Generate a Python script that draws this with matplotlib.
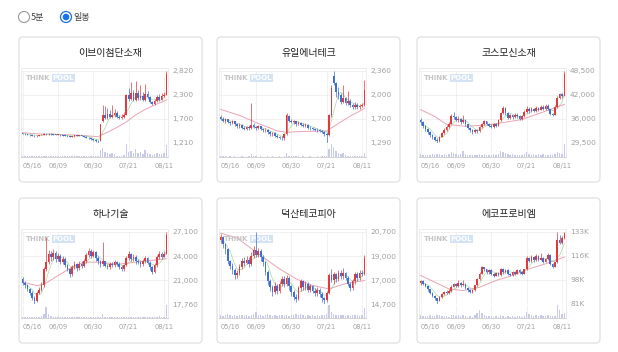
import matplotlib
matplotlib.use("Agg")
import matplotlib.pyplot as plt
from matplotlib.patches import FancyBboxPatch, Circle, Rectangle
import numpy as np
import pandas as pd

plt.rcParams['font.family'] = ['Noto Sans CJK KR', 'DejaVu Sans']

W, H = 618, 352

date_labels = ['05/16', '06/09', '06/30', '07/21', '08/11']
date_pos = [0, 15, 30, 45, 60]

# ---- 이브이첨단소재 ----
name1 = '이브이첨단소재'
ylab1 = ['2,820', '2,300', '1,700', '1,210']
o1 = [1430, 1420, 1410, 1400, 1385, 1375, 1365, 1370, 1390, 1400, 1415, 1405, 1420, 1410, 1400, 1395,
      1400, 1385, 1375, 1370, 1360, 1350, 1365, 1380, 1370, 1385, 1370, 1350, 1330, 1315, 1300, 1280,
      1260, 1255, 1700, 1840, 1770, 1860, 1790, 1830, 1880, 1800, 1760, 1800, 1840, 2280, 2200, 2330,
      2180, 2320, 2210, 2260, 2180, 2300, 2230, 2120, 2080, 2150, 2230, 2180, 2260, 2290]
c1 = [1420, 1410, 1400, 1385, 1375, 1365, 1370, 1390, 1400, 1415, 1405, 1420, 1410, 1400, 1395, 1400,
      1385, 1375, 1370, 1360, 1350, 1365, 1380, 1370, 1385, 1370, 1350, 1330, 1315, 1300, 1280, 1260,
      1250, 1630, 1840, 1770, 1860, 1790, 1830, 1880, 1800, 1760, 1800, 1840, 2280, 2200, 2330, 2180,
      2320, 2210, 2260, 2180, 2300, 2230, 2120, 2080, 2150, 2230, 2180, 2260, 2290, 2760]
h1 = [1440, 1430, 1420, 1410, 1395, 1385, 1380, 1400, 1410, 1425, 1425, 1430, 1430, 1420, 1410, 1410,
      1405, 1395, 1385, 1380, 1370, 1375, 1390, 1395, 1395, 1390, 1375, 1360, 1340, 1325, 1310, 1290,
      1270, 1640, 2060, 2040, 2000, 1950, 2050, 1980, 1920, 1830, 1850, 1900, 2300, 2450, 2580, 2400,
      2600, 2400, 2500, 2350, 2520, 2380, 2260, 2150, 2200, 2280, 2300, 2320, 2340, 2820]
l1 = [1410, 1400, 1390, 1375, 1365, 1355, 1355, 1360, 1380, 1390, 1395, 1400, 1400, 1390, 1385, 1385,
      1375, 1365, 1360, 1350, 1340, 1340, 1355, 1360, 1360, 1360, 1340, 1320, 1300, 1285, 1265, 1240,
      1210, 1250, 1680, 1740, 1750, 1770, 1780, 1800, 1780, 1740, 1750, 1780, 1830, 2150, 2180, 2150,
      2160, 2180, 2180, 2150, 2160, 2200, 2100, 2060, 2060, 2130, 2160, 2170, 2240, 2280]
v1 = [.08, .06, .05, .06, .05, .05, .04, .06, .05, .07, .05, .06, .05, .04, .05, .05,
      .04, .05, .04, .05, .04, .05, .06, .04, .05, .04, .05, .04, .05, .06, .05, .06,
      .08, .55, .70, .40, .30, .20, .30, .20, .10, .08, .10, .12, 1.0, .40, .50, .30,
      .60, .30, .40, .20, .55, .30, .20, .15, .20, .30, .20, .20, .30, .95]
ma_x1 = [0, 8, 16, 24, 32, 36, 40, 44, 48, 52, 56, 61]
ma_y1 = [1440, 1410, 1400, 1385, 1350, 1450, 1560, 1680, 1840, 1960, 2060, 2170]

# ---- 유일에너테크 ----
name2 = '유일에너테크'
ylab2 = ['2,360', '2,000', '1,700', '1,290']
o2 = [1680, 1650, 1620, 1640, 1600, 1580, 1610, 1570, 1540, 1560, 1520, 1500, 1530, 1510, 1560, 1530,
      1510, 1540, 1500, 1480, 1490, 1450, 1420, 1440, 1400, 1380, 1370, 1360, 1420, 1690, 1620, 1600,
      1610, 1570, 1590, 1560, 1550, 1560, 1520, 1510, 1500, 1490, 1480, 1470, 1460, 1430, 1410, 1700,
      2280, 2180, 2050, 2000, 1900, 1960, 1880, 1920, 1850, 1830, 1860, 1820, 1840, 1850]
c2 = [1650, 1620, 1640, 1600, 1580, 1610, 1570, 1540, 1560, 1520, 1500, 1530, 1510, 1560, 1530, 1510,
      1540, 1500, 1480, 1490, 1450, 1420, 1440, 1400, 1380, 1370, 1360, 1420, 1700, 1620, 1600, 1610,
      1570, 1590, 1560, 1550, 1560, 1520, 1510, 1500, 1490, 1480, 1470, 1460, 1430, 1410, 1700, 2100,
      2180, 2050, 2000, 1900, 1960, 1880, 1920, 1850, 1830, 1860, 1820, 1840, 1850, 2080]
h2 = [1700, 1670, 1660, 1650, 1620, 1630, 1620, 1590, 1580, 1570, 1540, 1550, 1560, 1890, 1580, 1550,
      1560, 1550, 1520, 1510, 1500, 1470, 1460, 1450, 1420, 1400, 1390, 1440, 1740, 1700, 1640, 1630,
      1620, 1610, 1600, 1580, 1580, 1570, 1540, 1530, 1520, 1510, 1500, 1490, 1470, 1450, 1720, 2150,
      2360, 2200, 2120, 2030, 2150, 1980, 2060, 1950, 1880, 1900, 1880, 1870, 1880, 2230]
l2 = [1630, 1600, 1590, 1580, 1560, 1570, 1550, 1520, 1520, 1500, 1480, 1490, 1490, 1500, 1510, 1490,
      1500, 1480, 1460, 1460, 1430, 1400, 1400, 1380, 1360, 1350, 1330, 1340, 1410, 1600, 1580, 1570,
      1550, 1560, 1540, 1530, 1530, 1500, 1490, 1480, 1470, 1460, 1450, 1440, 1400, 1290, 1400, 1680,
      2150, 1980, 1950, 1870, 1880, 1850, 1860, 1830, 1800, 1800, 1800, 1800, 1820, 1840]
v2 = [.05, .04, .04, .03, .04, .03, .04, .03, .03, .04, .03, .03, .04, .25, .06, .04,
      .03, .04, .03, .03, .04, .03, .04, .03, .03, .04, .03, .05, .30, .10, .06, .05,
      .04, .04, .03, .04, .03, .03, .04, .03, .03, .04, .03, .04, .05, .06, .60, 1.0,
      .80, .50, .30, .20, .35, .15, .10, .10, .08, .06, .07, .05, .06, .35]
ma_x2 = [0, 8, 16, 24, 28, 34, 40, 45, 50, 55, 61]
ma_y2 = [1790, 1700, 1580, 1470, 1450, 1460, 1465, 1470, 1580, 1690, 1800]

# ---- 코스모신소재 ----
name3 = '코스모신소재'
ylab3 = ['48,500', '42,000', '36,000', '29,500']
o3 = [35500, 35000, 34000, 33200, 32300, 31600, 31000, 30400, 30000, 31200, 32200, 33000, 33800, 34600,
      36600, 36400, 35600, 35900, 35100, 35700, 34400, 33500, 32800, 32400, 32900, 32600, 33600, 34500,
      35200, 34600, 34100, 33800, 34400, 34000, 35500, 37400, 38800, 37400, 36200, 36800, 36300, 37000,
      36500, 35900, 36600, 37800, 38600, 37900, 38500, 37900, 38800, 38300, 39000, 38500, 39300, 38400,
      37200, 36900, 39000, 41500, 42300, 42000]
c3 = [35000, 34000, 33200, 32300, 31600, 31000, 30400, 30000, 31200, 32200, 33000, 33800, 34600, 36600,
      36400, 35600, 35900, 35100, 35700, 34400, 33500, 32800, 32400, 32900, 32600, 33600, 34500, 35200,
      34600, 34100, 33800, 34400, 34000, 35500, 37400, 38800, 37400, 36200, 36800, 36300, 37000, 36500,
      35900, 36600, 37800, 38600, 37900, 38500, 37900, 38800, 38300, 39000, 38500, 39300, 38400, 37200,
      36900, 39000, 41500, 42300, 41800, 47800]
h3 = [36000, 35300, 34300, 33500, 32600, 32000, 31400, 30800, 31400, 32500, 33400, 34200, 35000, 37200,
      37700, 36700, 36500, 36200, 36800, 35800, 34600, 33800, 33100, 33200, 33300, 33900, 34900, 35600,
      35400, 34900, 34500, 34700, 34800, 35800, 37800, 39300, 39000, 37600, 37200, 37000, 37400, 37300,
      36800, 37000, 38200, 39200, 38900, 39000, 38800, 39300, 39100, 39600, 39400, 39800, 39700, 38600,
      37500, 39400, 41900, 42800, 42600, 48500]
l3 = [34200, 33500, 32600, 31800, 31000, 30600, 29900, 29500, 29800, 31000, 32000, 32700, 33500, 34500,
      35800, 35200, 35000, 34600, 34800, 34000, 33100, 32400, 32000, 32100, 32200, 32400, 33400, 34200,
      34200, 33700, 33400, 33500, 33600, 33900, 35300, 37200, 37000, 35800, 35900, 35900, 36000, 36100,
      35500, 35600, 36400, 37500, 37500, 37600, 37600, 37700, 38000, 38100, 38200, 38300, 38100, 36900,
      36500, 36800, 38800, 41000, 41300, 41800]
v3 = [.15, .12, .10, .12, .10, .15, .12, .18, .15, .12, .15, .12, .18, .30, .20, .15,
      .12, .15, .35, .15, .12, .10, .12, .10, .12, .15, .12, .15, .12, .10, .12, .15,
      .12, .18, .35, .30, .20, .15, .12, .15, .12, .10, .12, .12, .15, .30, .15, .12,
      .15, .12, .15, .12, .15, .12, .12, .15, .12, .15, .30, .20, .15, .70]
ma_x3 = [0, 6, 11, 19, 29, 36, 43, 53, 61]
ma_y3 = [38300, 36500, 34400, 33900, 34300, 35000, 35700, 37900, 39700]

# ---- 하나기술 ----
name4 = '하나기술'
ylab4 = ['27,100', '24,000', '21,000', '17,760']
o4 = [21000, 20500, 20200, 19700, 19200, 18600, 18100, 19200, 19600, 20200, 22300, 23200, 24300, 23800,
      24400, 23600, 24000, 23200, 23600, 22800, 22300, 21600, 22600, 22900, 22400, 23000, 22700, 23300,
      24100, 24600, 24000, 24500, 23700, 23300, 22900, 23300, 22700, 22500, 23000, 22800, 23200, 23000,
      22600, 22300, 22800, 23700, 24200, 23600, 23900, 23300, 23200, 22900, 23300, 23700, 23100, 22500,
      21900, 22800, 23800, 24300, 23900, 24300]
c4 = [20500, 20200, 19700, 19200, 18600, 18100, 19200, 19600, 20200, 22300, 23200, 24300, 23800, 24400,
      23600, 24000, 23200, 23600, 22800, 22300, 21600, 22600, 22900, 22400, 23000, 22700, 23300, 24100,
      24600, 24000, 24500, 23700, 23300, 22900, 23300, 22700, 22500, 23000, 22800, 23200, 23000, 22600,
      22300, 22800, 23700, 24200, 23600, 23900, 23300, 23200, 22900, 23300, 23700, 23100, 22500, 21900,
      22800, 23800, 24300, 23900, 24300, 26700]
h4 = [21200, 20800, 20400, 19900, 19400, 18800, 19400, 20000, 20600, 22500, 26500, 24800, 24600, 24900,
      24600, 24400, 24200, 24000, 23800, 23000, 22400, 22800, 23300, 23100, 23400, 23300, 23600, 24400,
      25000, 24900, 24800, 24600, 24000, 23500, 25800, 23400, 23000, 23200, 23200, 23500, 23400, 23200,
      22800, 23000, 24000, 24600, 24400, 24300, 24100, 23600, 23400, 23600, 24000, 23900, 23300, 22700,
      23100, 24100, 24700, 24500, 24600, 27100]
l4 = [20200, 19900, 19400, 18900, 18300, 17760, 18000, 19000, 19400, 20000, 22000, 23000, 23400, 23500,
      23200, 23300, 22900, 22900, 22500, 22000, 21300, 21400, 22300, 22100, 22200, 22400, 22500, 23100,
      23900, 23700, 23800, 23400, 23000, 22600, 22700, 22500, 22300, 22300, 22500, 22600, 22700, 22300,
      22000, 22100, 22700, 23500, 23300, 23400, 23000, 22900, 22600, 22700, 23100, 22900, 22200, 21700,
      21800, 22600, 23600, 23600, 23800, 24200]
v4 = [.08, .06, .05, .06, .05, .08, .10, .08, .12, .30, .90, .30, .15, .10, .08, .07,
      .06, .07, .05, .06, .08, .10, .07, .06, .05, .06, .05, .08, .10, .07, .06, .06,
      .05, .06, .35, .10, .06, .05, .06, .05, .05, .06, .05, .06, .08, .10, .07, .06,
      .05, .06, .05, .06, .07, .06, .05, .08, .07, .10, .12, .08, .10, 1.0]
ma_x4 = [0, 6, 9, 15, 21, 26, 33, 40, 48, 61]
ma_y4 = [20600, 20150, 20300, 21450, 22540, 23190, 23190, 22900, 23190, 23630]

# ---- 덕산테코피아 ----
name5 = '덕산테코피아'
ylab5 = ['20,700', '19,000', '17,000', '14,700']
o5 = [20000, 20300, 19700, 19300, 18300, 17900, 17500, 17100, 17300, 17800, 18300, 18100, 18400, 18000,
      18700, 19200, 18800, 19100, 18600, 18200, 17400, 16600, 16100, 15700, 16200, 15800, 16400, 16800,
      16400, 16900, 16200, 15700, 15300, 15100, 16000, 16600, 16100, 16400, 15900, 16200, 15800, 15600,
      15900, 15500, 15200, 15000, 15600, 17100, 16700, 17200, 16800, 17300, 17000, 17300, 16900, 16400,
      16000, 16600, 17200, 16900, 17300, 17200]
c5 = [20300, 19700, 19300, 18300, 17900, 17500, 17100, 17300, 17800, 18300, 18100, 18400, 18000, 18700,
      19200, 18800, 19100, 18600, 18200, 17400, 16600, 16100, 15700, 16200, 15800, 16400, 16800, 16400,
      16900, 16200, 15700, 15300, 15100, 16000, 16600, 16100, 16400, 15900, 16200, 15800, 15600, 15900,
      15500, 15200, 15000, 15600, 17100, 16700, 17200, 16800, 17300, 17000, 17300, 16900, 16400, 16000,
      16600, 17200, 16900, 17300, 17200, 18500]
h5 = [20500, 20400, 19800, 19400, 18400, 18100, 17700, 17500, 18000, 18500, 18600, 18700, 18600, 19000,
      19500, 20700, 19400, 19300, 18800, 18300, 17500, 16800, 16300, 16500, 16400, 16600, 17000, 17000,
      17100, 17000, 16300, 15900, 15500, 16200, 16800, 16700, 16600, 16500, 16400, 16300, 16000, 16100,
      16000, 15700, 15300, 15800, 17300, 17600, 17400, 17300, 17500, 17500, 17700, 17400, 17000, 16500,
      16800, 17400, 17400, 17500, 17500, 18800]
l5 = [19800, 19400, 18900, 18000, 17600, 17200, 16800, 16900, 17100, 17600, 17900, 18000, 17800, 17900,
      18500, 18600, 18600, 18300, 17900, 17100, 16300, 15800, 15400, 15500, 15500, 15600, 16200, 16100,
      16200, 15900, 15400, 15000, 14850, 15000, 15800, 15900, 15900, 15700, 15700, 15600, 15400, 15400,
      15300, 14900, 14700, 14900, 15500, 16500, 16400, 16500, 16600, 16800, 16800, 16700, 16200, 15800,
      15900, 16400, 16600, 16700, 17000, 17100]
v5 = [.20, .15, .25, .30, .20, .15, .20, .15, .25, .20, .15, .20, .15, .25, .30, .50,
      .25, .20, .15, .20, .30, .20, .15, .20, .15, .20, .25, .15, .20, .15, .20, .25,
      .30, .20, .35, .20, .15, .20, .15, .20, .15, .20, .15, .20, .25, .30, 1.0, .50,
      .30, .25, .20, .25, .20, .15, .20, .15, .20, .25, .20, .15, .20, .80]
ma_x5 = [0, 7, 18, 25, 32, 39, 46, 53, 61]
ma_y5 = [20600, 20200, 18600, 17630, 16800, 16240, 15960, 16400, 16650]

# ---- 에코프로비엠 (천원) ----
name6 = '에코프로비엠'
ylab6 = ['133K', '116K', '98K', '81K']
o6 = [96.0, 97.5, 95.5, 94.0, 91.5, 89.0, 87.0, 85.0, 83.5, 86.0, 88.5, 90.0, 89.0, 90.5, 93.5, 95.5,
      94.0, 96.5, 94.5, 95.5, 92.5, 91.0, 90.0, 91.0, 94.5, 99.0, 103.0, 107.5, 106.0, 104.0, 105.5, 103.0,
      101.5, 103.5, 102.0, 106.5, 104.0, 105.5, 103.0, 102.0, 104.0, 103.0, 105.5, 104.0, 103.0, 106.0,
      114.5, 112.0, 115.0, 112.5, 116.0, 113.0, 114.5, 111.5, 113.5, 116.5, 110.0, 108.0, 111.0, 127.0,
      125.0, 129.0]
c6 = [97.5, 95.5, 94.0, 91.5, 89.0, 87.0, 85.0, 83.5, 86.0, 88.5, 90.0, 89.0, 90.5, 93.5, 95.5, 94.0,
      96.5, 94.5, 95.5, 92.5, 91.0, 90.0, 91.0, 94.5, 99.0, 103.0, 107.5, 106.0, 104.0, 105.5, 103.0, 101.5,
      103.5, 102.0, 106.5, 104.0, 105.5, 103.0, 102.0, 104.0, 103.0, 105.5, 104.0, 103.0, 106.0, 114.5,
      112.0, 115.0, 112.5, 116.0, 113.0, 114.5, 111.5, 113.5, 116.5, 110.0, 108.0, 111.0, 127.0, 125.0,
      129.0, 132.5]
h6 = [98.5, 98.0, 96.0, 94.5, 92.0, 89.5, 87.5, 85.5, 86.5, 89.0, 90.5, 91.0, 91.5, 94.5, 96.5, 96.0,
      98.0, 97.0, 98.0, 96.0, 93.0, 91.5, 91.5, 95.0, 99.5, 104.0, 108.5, 108.0, 106.5, 106.0, 106.0, 103.5,
      104.0, 104.0, 107.0, 107.0, 106.5, 106.0, 103.5, 104.5, 104.5, 106.0, 106.0, 104.5, 106.5, 116.0,
      115.0, 116.5, 115.5, 117.0, 116.5, 117.5, 115.0, 114.5, 117.5, 117.0, 110.5, 111.5, 133.0, 131.0,
      130.0, 133.0]
l6 = [95.0, 94.5, 93.0, 90.5, 88.0, 86.0, 84.0, 81.0, 83.0, 85.5, 87.5, 88.0, 88.5, 90.0, 93.0, 93.0,
      93.5, 93.5, 94.0, 91.5, 90.0, 89.0, 89.0, 90.5, 94.0, 98.5, 102.5, 104.5, 103.0, 103.0, 102.0, 100.5,
      101.0, 101.0, 101.5, 103.0, 103.5, 102.0, 101.0, 101.5, 102.0, 102.5, 103.0, 102.0, 102.5, 105.5,
      111.0, 111.5, 111.5, 112.0, 112.0, 112.5, 110.5, 111.0, 113.0, 109.5, 107.0, 107.5, 110.5, 124.0,
      124.5, 128.0]
v6 = [.20, .15, .12, .15, .20, .15, .12, .25, .20, .15, .12, .15, .10, .20, .25, .15,
      .20, .15, .20, .12, .10, .12, .10, .20, .40, .60, .40, .25, .15, .12, .15, .10,
      .12, .10, .20, .15, .10, .12, .10, .12, .10, .15, .12, .10, .15, .50, .30, .20,
      .15, .20, .15, .20, .15, .12, .20, .15, .12, .15, 1.0, .60, .30, .40]
ma_x6 = [0, 12, 18, 25, 32, 39, 46, 53, 61]
ma_y6 = [101.6, 91.9, 90.7, 93.1, 98.0, 101.6, 106.4, 110.0, 114.9]

stocks = [
    (name1, ylab1, o1, c1, h1, l1, v1, ma_x1, ma_y1),
    (name2, ylab2, o2, c2, h2, l2, v2, ma_x2, ma_y2),
    (name3, ylab3, o3, c3, h3, l3, v3, ma_x3, ma_y3),
    (name4, ylab4, o4, c4, h4, l4, v4, ma_x4, ma_y4),
    (name5, ylab5, o5, c5, h5, l5, v5, ma_x5, ma_y5),
    (name6, ylab6, o6, c6, h6, l6, v6, ma_x6, ma_y6),
]

UP = '#e0393e'
DOWN = '#3f6fd1'
GRID = '#ececec'
LABEL = '#a0a0a0'

fig = plt.figure(figsize=(W / 100, H / 100), dpi=100)
bg = fig.add_axes([0, 0, 1, 1])
bg.set_xlim(0, W)
bg.set_ylim(H, 0)
bg.axis('off')


def px_axes(x, y, w, h):
    return fig.add_axes([x / W, 1 - (y + h) / H, w / W, h / H])


# radio buttons
bg.add_patch(Circle((24, 17), 5.5, facecolor='white', edgecolor='#9a9a9a', lw=0.8))
bg.text(31, 17.5, '5분', fontsize=6.5, color='#444444', va='center', ha='left')
bg.add_patch(Circle((66, 17), 5.5, facecolor='white', edgecolor='#1a73e8', lw=0.9))
bg.add_patch(Circle((66, 17), 3.3, facecolor='#1a73e8', edgecolor='none'))
bg.text(73, 17.5, '일봉', fontsize=6.5, color='#444444', va='center', ha='left')

cols = [19, 217, 417]
rows = [37, 198]
card_w, card_h = 183, 145

for k, (name, ylab, o, c, h, l, v, ma_x, ma_y) in enumerate(stocks):
    cx = cols[k % 3]
    cy = rows[k // 3]
    o = np.array(o, float)
    c = np.array(c, float)
    h = np.array(h, float)
    l = np.array(l, float)
    n = len(c)
    idx = np.arange(n)

    # card
    bg.add_patch(FancyBboxPatch((cx, cy), card_w, card_h, boxstyle='round,pad=0,rounding_size=4',
                                facecolor='white', edgecolor='#dcdcdc', lw=0.8))
    bg.text(cx + card_w / 2, cy + 16, name, fontsize=7.2, color='#222222', ha='center', va='center')

    # plot frame
    px0, px1 = cx + 2, cx + 149
    bg.add_patch(Rectangle((px0, cy + 31), px1 - px0, 89, facecolor='none', edgecolor='#e8e8e8', lw=0.6))

    lo, hi = l.min(), h.max()
    ax = px_axes(px0, cy + 34, px1 - px0, 72)
    ax.set_xlim(-0.7, n - 0.3)
    ax.set_ylim(lo, hi)
    ax.patch.set_alpha(0)
    for s in ax.spines.values():
        s.set_visible(False)

    # watermark
    ax.text(0.03, 0.9, 'THINK', transform=ax.transAxes, fontsize=5, color='#c4c4c4',
            fontweight='bold', va='center', ha='left', family='DejaVu Sans')
    ax.text(0.215, 0.9, 'POOL', transform=ax.transAxes, fontsize=5, color='white',
            fontweight='bold', va='center', ha='left', family='DejaVu Sans',
            bbox=dict(boxstyle='square,pad=0.15', facecolor='#d3e3f3', edgecolor='none'))

    ticks = np.linspace(hi, lo, 4)
    ax.set_yticks(ticks)
    ax.set_yticklabels(ylab, family='DejaVu Sans')
    ax.yaxis.tick_right()
    ax.tick_params(axis='y', length=0, labelsize=5.3, labelcolor=LABEL, pad=3)
    ax.set_xticks(date_pos)
    ax.tick_params(axis='x', length=0, labelbottom=False)
    ax.grid(True, color=GRID, lw=0.5)
    ax.set_axisbelow(True)

    # moving averages
    ax.plot(ma_x, ma_y, color='#eaa3b3', lw=0.7, zorder=2)
    ma5 = pd.Series(c).rolling(5, min_periods=1).mean()
    ax.plot(idx, ma5, color='#8fd08c', lw=0.5, alpha=0.8, zorder=2)

    # candles
    up = c >= o
    colors = np.where(up, UP, DOWN)
    span = hi - lo
    body = np.maximum(np.abs(c - o), span * 0.006)
    ax.vlines(idx, l, h, colors=colors, lw=0.5, zorder=3)
    ax.bar(idx, body, bottom=np.minimum(o, c), width=0.72, color=colors, zorder=4, clip_on=False)

    # volume
    vax = px_axes(px0, cy + 107, px1 - px0, 13)
    vax.set_xlim(-0.7, n - 0.3)
    vax.set_ylim(0, max(v) * 1.02)
    vax.patch.set_alpha(0)
    vax.bar(idx, v, width=0.6, color='#c8cae9', zorder=3)
    for s in vax.spines.values():
        s.set_visible(False)
    vax.spines['bottom'].set_visible(True)
    vax.spines['bottom'].set_color('#cfcfcf')
    vax.spines['bottom'].set_linewidth(0.6)
    vax.set_yticks([])
    vax.set_xticks(date_pos)
    labels = vax.set_xticklabels(date_labels, family='DejaVu Sans')
    labels[0].set_ha('left')
    vax.tick_params(axis='x', length=0, labelsize=4.8, labelcolor=LABEL, pad=4)
    vax.grid(True, axis='x', color=GRID, lw=0.5)
    vax.set_axisbelow(True)

fig.savefig('out.png', dpi=100)
